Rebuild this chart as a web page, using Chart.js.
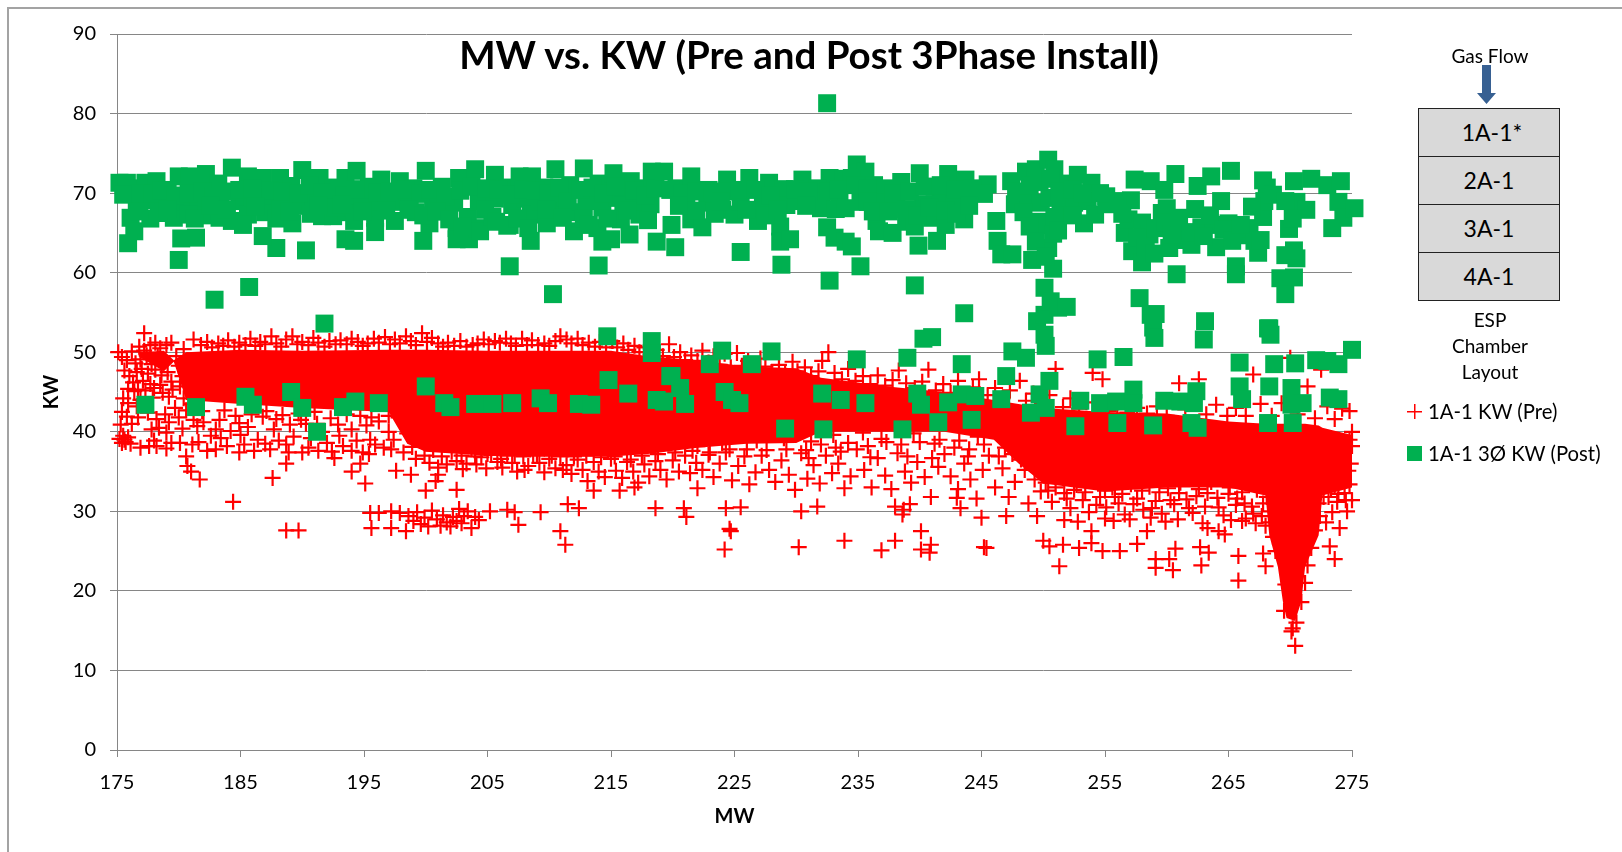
<!DOCTYPE html>
<html>
<head>
<meta charset="utf-8">
<title>MW vs. KW</title>
<script src="https://cdn.jsdelivr.net/npm/chart.js@4/dist/chart.umd.min.js"></script>
<style>
html, body { margin: 0; padding: 0; background: #fff; overflow: hidden; }
#page { position: relative; width: 1622px; height: 852px; overflow: hidden; font-family: Lato, "Open Sans", sans-serif; color: #000; }
#myChart { position: absolute; left: 0; top: 0; }
#frame { position: absolute; left: 7px; top: 7px; width: 1640px; height: 880px; border: 2px solid #a3a3a3; }
.txt { position: absolute; white-space: nowrap; line-height: 1; }
.mid { transform: translate(-50%, -50%); }
#chartTitle { left: 809px; top: 54px; font-size: 38.5px; font-weight: 700; }
.cell { position: absolute; left: 1418px; width: 140px; height: 47px; background: #d9d9d9; border: 1px solid #222; text-align: center; font-size: 23px; line-height: 47px; }
.small { font-size: 19px; }
.key { font-size: 20.3px; }
#plusKey { position: absolute; left: 1407px; top: 404px; width: 15px; height: 15px; background: linear-gradient(#f00,#f00) center/15px 1.5px no-repeat, linear-gradient(#f00,#f00) center/1.5px 15px no-repeat; }
#squareKey { position: absolute; left: 1407px; top: 446px; width: 15px; height: 15px; background: #00b050; }
</style>
</head>
<body>
<div id="page">
	<div id="frame"></div>
	<canvas id="myChart" width="1622" height="852"></canvas>
	<div class="txt mid" id="chartTitle">MW vs. KW (Pre and Post 3Phase Install)</div>
	<div class="txt mid small" style="left:1490px;top:55px">Gas Flow</div>
	<svg style="position:absolute;left:1470px;top:63px" width="32" height="44"><polygon points="12,2 21,2 21,30 26,30 16.5,41 7,30 12,30" fill="#376092"/></svg>
	<div class="cell" style="top:108px;text-indent:6px">1A-1*</div>
	<div class="cell" style="top:156px">2A-1</div>
	<div class="cell" style="top:204px">3A-1</div>
	<div class="cell" style="top:252px">4A-1</div>
	<div class="txt mid small" style="left:1490px;top:319px">ESP</div>
	<div class="txt mid small" style="left:1490px;top:345px">Chamber</div>
	<div class="txt mid small" style="left:1490px;top:371px">Layout</div>
	<div id="plusKey"></div>
	<div class="txt key" style="left:1428px;top:401px">1A-1 KW (Pre)</div>
	<div id="squareKey"></div>
	<div class="txt key" style="left:1428px;top:443px">1A-1 3Ø KW (Post)</div>
</div>
<script>
var xTicks = [175, 185, 195, 205, 215, 225, 235, 245, 255, 265, 275];
var yTicks = [0, 10, 20, 30, 40, 50, 60, 70, 80, 90];

var coreMw     = [176.8,178.8,179.6,180.6,185,190,197,198.5,200,205,215,218,222,226,230,232,238,242,246,248,250,255,260,265,268,268.3,269,269.4,269.7,270.4,270.9,271.2,272.3,272.6,275];
var coreTop    = [50,50.2,49,50,50.3,50.2,50.3,50.3,50.3,50.2,50.2,49.5,49,48.2,48,46.8,45.6,45,44,43.5,43,42.5,42.3,41.3,41,41,41,41,41,41,41,41,40.8,40.5,39.6];
var coreBottom = [49.4,47.6,48.8,44,43.5,43,42.5,38.5,37.5,37,36.9,37.2,38,38.5,38.6,40,40,40,39,36,33.5,32.5,33,33,32,27,23,18.7,16.6,16.2,18.7,23,27,32,33];

var preLeft = [[175.1,50],[175.4,49.4],[175.8,49],[176.2,50.1],[176.5,48.6],[175.6,47.7],[176,47],[176.3,46.2],[175.9,45.4],[176.4,45.1],[175.5,44.2],[175.9,43.6],[175.4,42.5],[175.8,41.9],[176.2,41],[176.6,43.2],[175.3,40.9],[175.6,39],[175.4,38.6],[175.2,39.1],[175.7,38.7],[175.9,39.3],[175.5,39.5],[176.1,38.5],[176.9,38],[177.6,38.2],[178,38.9],[177.8,40.3],[178.4,40.5],[179,39.9],[178.2,38.2],[179.4,38.6],[180.1,38.6],[177.2,52.4],[176.8,50.7],[177.2,50.2],[177.7,50.9],[178.1,51.2],[178.5,50.5],[179,50.9],[179.4,51.2],[176.9,49.1],[177.4,49.6],[177.8,48.5],[178.3,49.4],[178.8,48.8],[177,47.9],[177.5,47.3],[178.1,47.8],[178.6,47.1],[177.1,46.4],[177.7,46],[176.7,45.3],[178,45.5],[178.5,45.9],[179.1,47.5],[179.4,46.3],[179.8,49.5],[180,48.3],[180.4,50.4],[180.7,49],[180.3,47],[180.8,47.7],[180.1,45.7],[179.2,44.4],[179.7,43],[178.9,42.2],[180,41.8],[181,43.5],[180.6,42.7],[181.2,51.6],[181.4,46.2],[181.1,48.5],[176.6,47.5],[177.3,45.2],[177.9,44.3],[176.9,44],[178.7,44.9],[179.5,45.3],[180.4,44.2],[176.7,41.8],[177.5,42.4],[178.2,41.6],[179.2,41.2],[180.3,40.4],[181.2,41.5]];
var preTopEdge = [[181.8,50.9],[182.3,51.3],[182.7,50.6],[183.2,51.1],[183.6,50.8],[184,51.5],[184.5,50.7],[184.9,51.2],[185.4,50.9],[185.8,51.7],[186.2,50.8],[186.6,51.3],[187,51],[187.5,52],[187.9,51.1],[188.3,50.7],[188.7,51.6],[189.2,52],[189.6,51],[190,51.3],[190.5,50.9],[190.9,51.8],[191.3,51.2],[191.8,50.7],[192.2,51.4],[192.7,51],[193.1,51.5],[193.6,51],[194,51.7],[194.5,51.3],[194.9,50.8],[195.3,51.1],[195.8,51.7],[196.2,51.2],[196.7,51.9],[197.1,51],[197.5,51.6],[197.9,51.1],[198.4,52],[198.8,51.4],[199.2,50.9],[199.7,52.4],[200.1,51.3],[200.5,51.8],[201,51.1],[201.4,50.7],[201.8,51.2],[202.3,50.8],[202.8,51.4],[203.3,50.7],[203.8,50.9],[204.2,51.1],[204.7,51.6],[205.1,51],[205.6,51.4],[206,51.2],[206.5,51.7],[206.9,51.1],[207.3,50.8],[207.8,51.7],[208.2,50.9],[208.6,51.5],[209.1,50.9],[209.6,51.1],[210,50.8],[210.5,51.4],[210.9,52],[211.4,51.6],[211.8,51.1],[212.3,51.7],[212.7,50.9],[213.2,51.2],[213.7,50.7],[214.1,51.3],[214.6,50.6],[215.1,51.4],[215.5,50.6],[216,51.1],[216.4,50.3],[216.9,50.8],[217.3,50],[217.7,50.6],[218.2,49.7],[218.7,50.3],[219.2,49.5],[219.7,51],[220.1,49.4],[220.6,50],[221,49],[221.5,49.6],[222,48.9],[222.4,50.2],[222.9,48.7],[223.3,49.5],[223.8,48.4],[224.2,49.8],[224.7,48.1],[225.2,49.9],[225.6,48.3],[226.1,48.9],[226.6,47.9],[227.1,49.2],[227.5,48.2],[228,47.5],[228.6,48.4],[229.1,47.3],[229.7,48.8],[230.1,47.6],[230.7,48.1],[231.2,47],[231.8,47.6],[232.1,48.9],[232.6,50],[233.1,47.4],[233.7,46.6],[234.2,47.9],[234.8,46.4],[235.4,47],[236,46],[236.6,47.1],[237.2,45.8],[237.8,46.5],[238.3,47.7],[238.9,46.1],[239.6,45.5],[240.2,46.3],[240.7,47.8],[241.3,45.2],[241.9,46],[242.5,44.9],[243.1,46.4],[243.7,44.7],[244.3,45.6],[244.8,46.6],[245.5,44.6],[246.1,45.5],[246.7,44.2],[247.3,45.2],[248.1,46.4],[248.6,43.9],[249.2,44.8],[249.9,43.5],[250.5,44.6],[251,47.9],[251.6,43.1],[252.2,44.2],[252.9,42.9],[253.5,43.7],[254,47.4],[254.8,46.6],[255.3,42.6],[256,43.3],[256.8,42.4],[257.6,43],[258.4,42.3],[259.2,43.2],[260,42],[261,46.1],[261.5,42.8],[262.6,46.6],[263.2,42.2],[264,43.4],[264.9,42],[265.6,43],[266.4,42],[267,47.2],[267.6,43.5],[268.5,42],[269.3,43.6],[270,49.3],[270.6,42.2],[271.4,45.7],[272,41.7],[272.5,47.8],[273,43.2],[273.6,41.6],[274.2,42.9],[274.8,42.6]];
var preLowerLeft = [[181.1,38.4],[181.5,40.7],[181.9,42.6],[182.3,37.6],[182.6,39.5],[183,37.8],[183.3,41.5],[183.7,42.7],[183.9,38.2],[184.2,40.1],[184.6,42],[184.9,37.4],[185.3,38.4],[185.6,40.6],[186.1,37.6],[186.4,39],[186.8,41.9],[187.1,42.6],[187.4,37.8],[187.7,40.3],[188.1,38.9],[188.4,42.1],[188.7,38.4],[189,40.9],[189.3,39.4],[189.7,42.3],[190,37.4],[190.3,41],[190.7,39.2],[191,42.5],[191.3,37.6],[191.6,40],[192,38.6],[192.3,41.7],[192.6,36.7],[193,39.5],[193.3,38.2],[193.6,42.2],[194,40.3],[194.4,38.9],[194.9,37.4],[195.2,40.8],[195.5,39],[195.9,38.4],[196.2,41.3],[196.6,38],[197,40],[197.4,39],[197.8,41.8],[198.2,37.4],[198.5,39.8],[198.9,38.1],[199.2,36.6],[199.6,38.9],[199.9,37],[200.3,36.1],[200.6,37.7],[201,35.5],[201.3,36.9],[201.7,35.9],[202.1,37.5],[202.5,36.3],[179,37.9],[180.6,36.9],[182,41.2],[183,40.3],[184.9,41.1],[185.9,42.2],[187.9,41.6],[189.9,41.5],[191.2,41],[192.9,40.9],[194.7,42],[195.6,41.8],[197,42],[181.6,38.7],[183.4,39.2],[185,39.6],[187,38.5],[188.9,37.4],[190.5,38],[192.4,37.5],[194,37.6],[195.4,37.2],[197.2,37.8]];
var preLowerMid = [[202.9,37],[203.3,36],[203.7,37.8],[204.1,35.9],[204.5,36.8],[204.9,35.4],[205.3,37.1],[205.8,36.2],[206.2,35.5],[206.6,37],[207,36.1],[207.4,35],[207.9,36.9],[208.3,35.7],[208.7,37.2],[209.2,36.1],[209.6,34.9],[210,36.6],[210.5,35.4],[210.9,36.9],[211.4,35.8],[211.8,34.7],[212.3,36.5],[212.7,35.2],[213.1,33.8],[213.6,36.2],[214,35],[214.5,34.3],[215,36.6],[215.4,35.1],[215.9,34.2],[216.3,36.2],[216.8,35],[217.2,33.6],[217.7,35.9],[218.1,34.4],[218.6,36.3],[219,35.2],[219.5,34],[220,36.4],[220.5,35],[221,37],[221.4,34.8],[221.9,36.1],[222.4,35.2],[222.9,37.1],[223.3,34.3],[223.8,36],[224.3,37.4],[224.8,33.9],[225.3,35.7],[225.8,36.9],[226.2,33.4],[226.7,34.9],[227.2,37],[227.8,35.2],[228.3,33.7],[228.8,36.4],[229.4,34.6],[229.9,32.7],[230.4,37.3],[230.9,34.1],[231.4,35.8],[231.9,33.5],[232.4,37],[232.9,34.8],[233.4,36],[233.9,32.9],[234.4,34.4],[234.9,37.8],[235.5,35.2],[236.1,33],[236.6,36.7],[237.2,34.5],[237.7,32.8],[238.2,37.3],[238.8,35],[239.3,33.6],[239.8,36.2],[240.4,34.3],[240.9,31.8],[241.5,35.6],[242,37.2],[242.5,34.4],[243.1,32.8],[243.6,36],[244.1,34],[244.6,31.6],[245.1,35.2],[245.6,37],[246.1,33],[246.7,35.4],[247.2,31.8],[247.7,33.7],[248.2,36.5],[248.8,31],[249.3,34],[249.8,32.5],[222,38.2],[224,38.6],[226.8,38.9],[229,39.2],[231.2,38.8],[233,39.6],[235.4,39.9],[237.3,38.7],[239.5,39.8],[241.2,38.5],[243.2,38.9],[244.7,39.4],
[203,35.3],[204,36.9],[205,37.2],[206.1,36.6],[207.2,37.2],[208,35.2],[209,37],[210.2,37],[211.1,35.2],[212,36.9],[213,37],[214.2,36.8],[215.3,36.9],[216.6,36.5],[217.5,37],[218.8,37.2],[220.2,37.4],[221.6,37.6],[223,37.4],[224.6,37.8],[226,37.8],[227.6,37.7],[229.2,37.8],[230.8,37.7],[232,38.4],[233.2,38],[234.2,38.6],[235.8,38.2],[236.9,39.1],[238.5,38.4],[240,38.7],[241.6,39],[242.8,38],[244,37.8],[245.2,38.4],[246.4,36.9],[247.5,37.2],[248.5,35.2],[249.5,35.6],[231,36.7],[233.6,37.5],[236,36.8],[239,36.9],[241,36.7],[243.9,36.9],[246.9,38],[248.9,37.6]];
var preLowerRight = [[250.2,33.6],[250.7,31.2],[251.2,34.3],[251.7,32.3],[252.2,30.4],[252.7,33.3],[253.2,31.4],[253.7,29.9],[254.1,33.9],[254.6,31.8],[255.1,30.5],[255.6,33],[256.1,31],[256.6,29.6],[257.1,33.4],[257.6,31.6],[258.1,30.2],[258.6,33.1],[259.1,31.3],[259.6,29.7],[260.1,32.9],[260.6,30.9],[261.1,33.6],[261.6,31.5],[262.1,29.8],[262.6,32.8],[263.1,30.6],[263.6,33.7],[264.1,31.7],[264.6,29.5],[265.1,33],[265.6,30.8],[266.1,32.4],[266.5,34],[266.9,30.6],[267.3,32.7],[267.7,29.4],[268.1,31.8],[268.4,28.6],[268.6,26.8],[268.8,25],[269,29.7],[269.2,27.4],[269.4,24.4],[272,34.2],[272.3,31],[272.6,33],[272.9,28.6],[273.1,31.8],[273.4,29.9],[273.6,33.2],[273.8,31.2],[274,27.9],[274.2,34],[274.4,32.3],[274.6,30],[274.8,33.4],[275,31.4],[274.9,36],[275,38.2],[274.7,35.1],[275,40],[274.8,39],[272.4,29.4],[272,27.6],[271.7,25.4],[271.4,23.2],[271.2,21],[270.9,18.6],[271.8,29.7],[269.6,20.8],[269.5,17.5],[270.2,15.3],[270.5,16],[270.1,14.9],
[250.4,32.6],[251,33],[251.9,31.6],[252.5,32.7],[253.4,32.4],[254.3,30.8],[255,32.6],[255.8,31.8],[256.4,32.2],[257.3,30.9],[258,32.6],[258.8,30.4],[259.4,32.4],[260.3,31.4],[261,32.3],[261.8,30.4],[262.4,31.9],[263.3,32.3],[264.2,30.5],[265,32.2],[265.7,31.6],[266.3,31],[267,29.7],[267.8,31],[268.3,30],[272.7,31.8],[273.3,32.8],[273.9,32.2],[274.5,31.4],[268,28.2],[267.2,28.5],[266.4,29.1],[265.2,28.9],[262.9,28.5],[259.9,28.7],[257,29],[255,29.1],[252.8,28.7]];
var preLow = [[180.7,35.7],[181,35],[181.7,34],[184.4,31.2],[187.6,34.2],[188.7,36],[188.7,27.6],[189.7,27.6],[194,35],[194.7,36],[195.1,33.5],[197.6,35.1],[198.8,34.6],[200,32.6],[200.8,33.8],[201,34.6],[202.5,32.7],[195.5,29.8],[196.2,29.8],[197.2,30],[197.9,29.8],[195.6,27.9],[197.2,27.9],[198.4,27.5],[198.6,29.4],[199,28.8],[199.3,29.9],[199.6,28.4],[199.9,29.2],[200.2,28.1],[200.5,30.1],[200.9,29],[201.2,28.2],[201.4,29.5],[201.7,28.6],[202,28.1],[202.2,29.3],[202.5,28.8],[202.7,30.3],[202.9,28.5],[203.1,29.4],[203.4,30],[203.7,27.9],[204,29.3],[204.3,28.9],[205.2,30],[206.6,30.2],[207.2,29.9],[207.5,28.3],[209.3,29.9],[211.5,30.9],[212.4,30.4],[210.9,27.5],[211.3,25.8],[218.6,30.4],[213.6,32.6],[215.7,32.6],[216.9,33],[222,32.9],[220.9,30.4],[221.1,29.3],[224.3,30.4],[225.5,30.5],[224.6,27.8],[224.7,27.5],[224.2,25.2],[230.2,25.5],[230.4,30],[231.7,30.6],[233.9,26.3],[236.9,25.1],[238,26.3],[240.1,27.5],[240.1,25.2],[240.9,25.8],[240.8,24.8],[245.2,25.5],[245.4,25.4],[238.7,30.2],[238,30.6],[239.2,30.9],[238.6,29.6],[243,31.7],[243.3,30.4],[245,29.2],[247,29.4],[249.5,29.4],[250,26.3],[250.5,25.6],[251.6,25.8],[251.3,23.1],[252.9,25.4],[253.9,26],[254.8,25],[256.2,25],[257.6,25.9],[259.1,24],[259.1,22.9],[260.2,24],[260.5,22.6],[260.7,25.3],[262.7,25.5],[263.4,24.8],[262.8,23.2],[265.8,24.4],[265.8,21.3],[267.8,24.7],[268,23.1],[273.2,25.6],[273.6,24],[264.7,27.1],[264.2,27.5],[258.4,27.5],[263.3,27.9],[251.7,28.9],[253.9,27.5],[255.7,28.8],[260.9,29],[258.7,29.2],[266.1,28.8],[270.4,13.1]];

var postLower = [[177.3,43.4],[181.4,43.1],[185.4,44.4],[186,43.4],[189.1,45],[190,43],[191.2,40],[193.3,43.1],[194.3,43.8],[196.2,43.6],[200,45.7],[201.5,43.6],[202,43.1],[204,43.5],[205.4,43.5],[207,43.6],[209.3,44.2],[209.9,43.6],[212.4,43.5],[213.4,43.4],[214.8,46.5],[216.4,44.8],[218.7,44],[219.3,43.8],[219.8,47],[220.6,45.5],[221,43.5],[224.2,45],[224.8,44],[225.4,43.6],[229.1,40.4],[232.1,44.8],[232.2,40.3],[233.6,44],[235.6,43.6],[238.6,40.3],[239.8,44.8],[240.1,43.4],[241.5,41.2],[242.3,43.7],[243.4,44.7],[244.2,41.5],[244.5,44.5],[246.6,44.1],[247,47],[249,42.4],[249.7,44.7],[250.2,43],[250.5,46.4],[252.6,40.7],[253,43.9],[254.6,43.6],[255.9,43.8],[256,41.1],[257.3,45.3],[257.3,43.6],[258.9,40.8],[259.8,43.9],[261.1,43.8],[262,41.1],[262.2,43.6],[262.4,45.1],[262.5,40.5],[265.9,45.7],[266.1,44.1],[268.2,41.1],[268.3,45.7],[270.1,45.5],[270.1,43.4],[270.2,41.1],[271,43.6],[273.2,44.3],[273.9,44.1]];
var postMiddle = [[180,61.6],[182.9,56.6],[185.7,58.2],[187.9,63.1],[190.3,62.8],[191.8,53.6],[206.8,60.8],[210.3,57.3],[214,60.9],[214.7,52],[218.3,51.4],[218.3,49.9],[219.9,47],[223,48.5],[224,50.2],[226.4,48.5],[228,50.1],[234.9,49.1],[239,49.3],[240.3,51.7],[241,51.9],[243.4,48.5],[243.6,54.9],[247.5,50.1],[248.6,49.3],[249.5,53.9],[250.1,54.7],[250.1,52.2],[250.2,50.8],[250.1,58.1],[250.6,56.4],[251.2,55.6],[251.9,55.7],[250.8,60.5],[254.4,49.1],[256.5,49.4],[257.8,56.8],[258.7,54.7],[258.9,53.1],[259,51.8],[259.1,54.8],[263.1,53.9],[263,51.6],[265.9,48.7],[268.2,53],[268.3,53],[268.4,52.2],[268.7,48.5],[270.4,48.6],[272.1,49],[273,48.9],[273.9,48.5],[275,50.3],[232.5,81.3],[232.7,59],[239.6,58.4],[228.8,61],[225.5,62.6],[235.2,60.8],[260.8,59.8],[265.6,60.8],[265.6,59.8],[269.2,59.3],[270.3,59.4],[269.6,57.3],[270.5,61.8],[269.6,62.2]];
var postUpperLeft = [[175.2,71.3],[175.8,71.3],[176.4,70.6],[177.3,71.3],[178.2,71.5],[179.1,70.4],[180,72.1],[180.9,72.1],[182.2,72.4],[183.2,71.2],[184.3,73.2],[185.6,72.1],[186.8,71.9],[188.2,71.9],[189.1,70.9],[190,72.9],[191.4,71.9],[192.5,70.7],[193.5,71.9],[194.4,72.8],[195.4,70.8],[196.4,71.7],[197.9,71.5],[199,70.6],[200,72.8],[201.3,70.8],[202.7,71.9],[204,73],[205.6,72.3],[206.6,70.7],[207.6,72.1],[208.6,72.1],[209.6,70.7],[210.5,73],[211.7,71],[212.8,73.1],[214,71.2],[215.2,72.5],[216.6,71.5],[217.6,70.6],[218.3,72.7],
[176.1,66.9],[176.4,65.2],[175.9,63.7],[176.6,68.9],[177.7,66.8],[177.5,69.1],[178.8,69],[179.6,66.9],[180.2,64.3],[180.4,68.9],[181.4,64.4],[181.6,69],[182.2,67.2],[183.3,66.9],[183.4,69.3],[184.3,66.5],[184.9,69],[185.6,67.3],[186,69.5],[186.8,64.6],[187,67.6],[187.4,69.7],[187.9,66.8],[188.7,69],[189.2,66.2],[189.9,68.4],[190.9,69.6],[191.6,67.1],[192.5,67.1],[192.4,69.2],[193.5,64.2],[193.6,67.6],[194.2,64],[194.2,66.5],[194.8,69.2],[195.9,65.1],[195.9,66.9],[196.3,69],[197.5,66.5],[197.6,68.9],[198.7,69.4],[199.2,67.6],[199.8,64],[200.3,66.2],[200.6,69],[201.4,67.7],[202.5,65.6],[202.5,64.2],[202.3,68.8],[203.5,64.2],[203.4,67],[204.2,65.6],[204.4,65.2],[204.3,69],[205.4,67],[205.6,69.3],[206.6,65.9],[206.8,66],[207,68.5],[208.1,69.3],[208.5,64],[208.5,67.3],[209.3,69],[209.8,66.2],[210.5,68.4],[211.3,69.4],[212,65.2],[212.3,67.6],[213,69],[213.9,65.6],[214.3,63.9],[214.3,68.2],[215,64.2],[215.5,69.4],[215.8,66.7],[216.5,64.8],[217.3,67.3],[217.2,69],[218.2,68.6],[218.7,63.9],
[175.5,69.8],[176.9,70],[177.9,69.9],[178.6,70.3],[179.7,69.7],[180.8,70],[181.9,70.2],[182.8,69.6],[183.9,70.2],[184.9,70.4],[186,70.6],[187.4,70.3],[188.4,70.2],[189.7,70],[190.6,71],[191.6,70.1],[192.7,68.2],[193.4,69.7],[194.3,70.5],[195,68.2],[196.1,70.1],[197.1,70.2],[198.4,70.4],[199.6,69.9],[200.4,70.4],[201.6,69.6],[202.8,70.3],[203.7,70.8],[204.9,70.6],[205.9,70.4],[206.9,69.8],[207.9,70.5],[208.9,70.3],[209.9,70],[210.8,70.7],[211.5,68.9],[212.5,70.4],[213.5,70.7],[214.4,69.9],[215.4,70.8],[216,68.4],[216.9,70.3],[217.8,69.7],[218.6,70.6],
[176.8,67.7],[178.4,67.5],[179.1,68],[180.8,67.3],[181.3,66.8],[182.6,68.4],[183.9,67.9],[185.2,66],[186.2,68.3],[188.2,68],[189,67.7],[190.7,67.4],[191.3,68.5],[193.2,68.6],[194.9,67.7],[196.8,67.8],[198.6,67.9],[199.8,67.2],[200.9,67.7],[201.9,66.7],[203,65.8],[204.8,67.9],[205.7,66.4],[207.4,66.8],[208.3,65.6],[209.8,67.9],[211.1,66.9],[212.8,66.8],[213.2,66],[214.7,66.8],[216.3,67.8],[218,66.6]];
var postUpperRight = [[219.3,72.7],[220.3,70.6],[221.5,72.1],[222.9,70.4],[224.4,71.7],[226.2,71.9],[227.8,71.3],[229,70.5],[230.5,71.7],[232.7,71.9],[231.7,70.6],[233.8,71.8],[234.9,73.6],[235.6,72.7],[234.5,71.9],[236.3,71],[237.2,70.6],[238.5,71.4],[240,72.5],[241.2,70.8],[242.3,72.4],[243.7,71.7],[245.5,71.1],[247.4,71.5],[248.6,72.7],[249.4,73],[250.4,74.2],[250.9,73],[251.8,71.2],[252.8,72.3],[253.9,71.3],[255.1,69.6],[257.4,71.7],[258.7,71.5],[259.8,70.4],[260.7,72.4],[262.5,70.9],[263.6,72.1],[265.2,72.8],[267.8,71.6],[268.1,70.7],[270.3,71.5],[271.7,71.8],[273,71],[274.1,71.5],
[219.9,66],[220.2,63.2],[221.1,68.6],[221.5,66.7],[222.4,65.7],[222.8,68.8],[224,67.9],[225,67.3],[225.5,68.9],[226.9,66.5],[227.3,68.6],[228.7,65.8],[228.7,63.9],[229.5,64.2],[229.2,68.5],[230,69],[231.5,69],[232,68.1],[232.5,65.7],[233.1,64.4],[233.5,69.2],[234,63.9],[234.5,63.3],[235.2,68.9],[236.5,66.5],[236.7,65.2],[236.9,68.8],[237.8,65],[238.1,68.6],[238.9,66.4],[239.6,65.8],[239.9,63.4],[240.3,68.6],[241,66.9],[241.4,64],[241.7,69],[242.1,66],[242.8,68.6],[243.6,66.7],[246.2,66.5],[246.3,64],[246.6,62.3],[247.5,62.3],[247.7,68.6],[248.8,69.6],[249.1,61.6],[249.5,66.4],[249.8,68.8],[250.1,66],[250.4,63.1],[250.5,69.4],[250.8,64.9],[251.4,67.4],[251.8,69.5],[252.5,68.8],[253.3,66.2],[253.6,69],[254.2,67.3],[255.1,68.6],[256.6,65],[256.9,66.7],[257.1,69.1],[257.2,62.7],[258,61.3],[258,66.3],[258.6,64.8],[259.1,65.6],[259.6,67.5],[260,68.1],[260.2,63.1],[260.8,65.8],[261.4,64.1],[262,63.5],[262.3,68],[262.8,65.7],[263.8,66],[264,63.2],[264.4,69],[265,66.2],[265.7,64.7],[266.7,65.6],[267.4,62.5],[267.1,64],[267.8,67],[267.9,69],[269.9,65.5],[270.5,68.9],[271.3,67.9],[273.4,65.6],[273.9,68.9],[274.3,66.9],[275.2,68.1],
[219.8,70.4],[220.8,70],[221.9,70.2],[223.2,69.9],[224.3,70.2],[225.4,70.4],[226.7,70.4],[227.9,69.7],[229.9,70.5],[231,70.2],[232.6,70.2],[233.4,70.5],[234.8,71],[235.8,70.6],[237.9,70],[239.2,70.2],[240.4,70.8],[241.7,71],[242.9,70.4],[244.3,70.6],[245.2,69.9],[247.8,70.2],[248.9,71],[249.7,71.4],[250.6,71.8],[251.3,70.2],[252.4,70.4],[253.2,70],[254.6,70],[256,69],
[220.5,68.4],[221.9,67.8],[223.4,67.4],[223.9,68.9],[226,67.9],[227.5,67.2],[228.5,68],[230.8,68.4],[233.2,68],[234,68.1],[235.8,68.9],[236.2,67.7],[237.5,67.7],[238.9,68],[239.8,67.2],[240.8,68.2],[242.1,67.8],[243,67.4],[244,68.4],[248.4,67.6],[248.9,65.8],[249.4,63.9],[250.2,62],[250.9,67],[251.2,65.3],[252.4,67.2],[256.4,67.4],[257.6,64.4],[258.3,63.1],[259,62.4],[259.9,66.3],[260.4,64.8],[261,66.9],[261.9,65.1],[263,64.6],[263.5,67.2],[264.6,65.4],[265.3,64],[266,66],[266.9,68.3],[267.6,64.1],[268.6,69.8],[269.6,69],[270.3,62.8],[270.2,66.8]];

var preKw  = preLeft.concat(preTopEdge, preLowerLeft, preLowerMid, preLowerRight, preLow);
var postKw = postLower.concat(postMiddle, postUpperLeft, postUpperRight);

function pairs(xs, ys) {
	var out = [];
	for (var i = 0; i < xs.length; i++)
		out.push({x: xs[i], y: ys[i]});
	return out;
}

function fitAxis(size) {
	return function(scale) {
		if (scale.isHorizontal()) {
			scale.height = size;
			scale.paddingLeft = 0;
			scale.paddingRight = 0;
		} else {
			scale.width = size;
			scale.paddingTop = 0;
			scale.paddingBottom = 0;
		}
	};
}

var tickFont  = {family: 'Lato', size: 20};
var titleFont = {family: 'Lato', size: 20, weight: 'bold'};
var axisGrey  = '#868686';

var ctx = document.getElementById('myChart');
var myChart = new Chart(ctx, {
	type: 'scatter',
	data: {
		datasets: [
			{
				label: '1A-1 3Ø KW (Post)',
				data: postKw,
				pointStyle: 'rect',
				pointRadius: 12.7,
				backgroundColor: '#00b050',
				borderColor: '#00b050',
				borderWidth: 0,
				clip: false
			},
			{
				label: '1A-1 KW (Pre)',
				data: preKw,
				pointStyle: 'cross',
				pointRadius: 8,
				borderColor: '#ff0000',
				borderWidth: 2.2,
				clip: false
			},
			{
				label: 'Pre overlap top',
				data: pairs(coreMw, coreTop),
				showLine: true,
				pointRadius: 0,
				borderWidth: 0,
				backgroundColor: '#ff0000',
				fill: '+1'
			},
			{
				label: 'Pre overlap bottom',
				data: pairs(coreMw, coreBottom),
				showLine: true,
				pointRadius: 0,
				borderWidth: 0
			}
		]
	},
	options: {
		responsive: false,
		animation: false,
		layout: {padding: {top: 34, right: 270, left: 0, bottom: 0}},
		plugins: {
			legend: {display: false},
			title: {display: false},
			tooltip: {enabled: false}
		},
		scales: {
			x: {
				type: 'linear',
				min: xTicks[0],
				max: xTicks[xTicks.length - 1],
				afterFit: fitAxis(102),
				afterBuildTicks: function(scale) {
					scale.ticks = xTicks.map(function(v) { return {value: v}; });
				},
				border: {color: axisGrey},
				grid: {drawOnChartArea: false, color: axisGrey, tickLength: 7},
				ticks: {font: tickFont, color: '#000', padding: 14, maxRotation: 0},
				title: {display: true, text: 'MW', font: titleFont, color: '#000', padding: {top: 0, bottom: 23}}
			},
			y: {
				min: yTicks[0],
				max: yTicks[yTicks.length - 1],
				afterFit: fitAxis(117),
				afterBuildTicks: function(scale) {
					scale.ticks = yTicks.map(function(v) { return {value: v}; });
				},
				border: {color: axisGrey},
				grid: {color: axisGrey, tickLength: 7},
				ticks: {font: tickFont, color: '#000', padding: 14},
				title: {display: true, text: 'KW', font: titleFont, color: '#000', padding: {top: 40, bottom: 0}}
			}
		}
	}
});
</script>
</body>
</html>
